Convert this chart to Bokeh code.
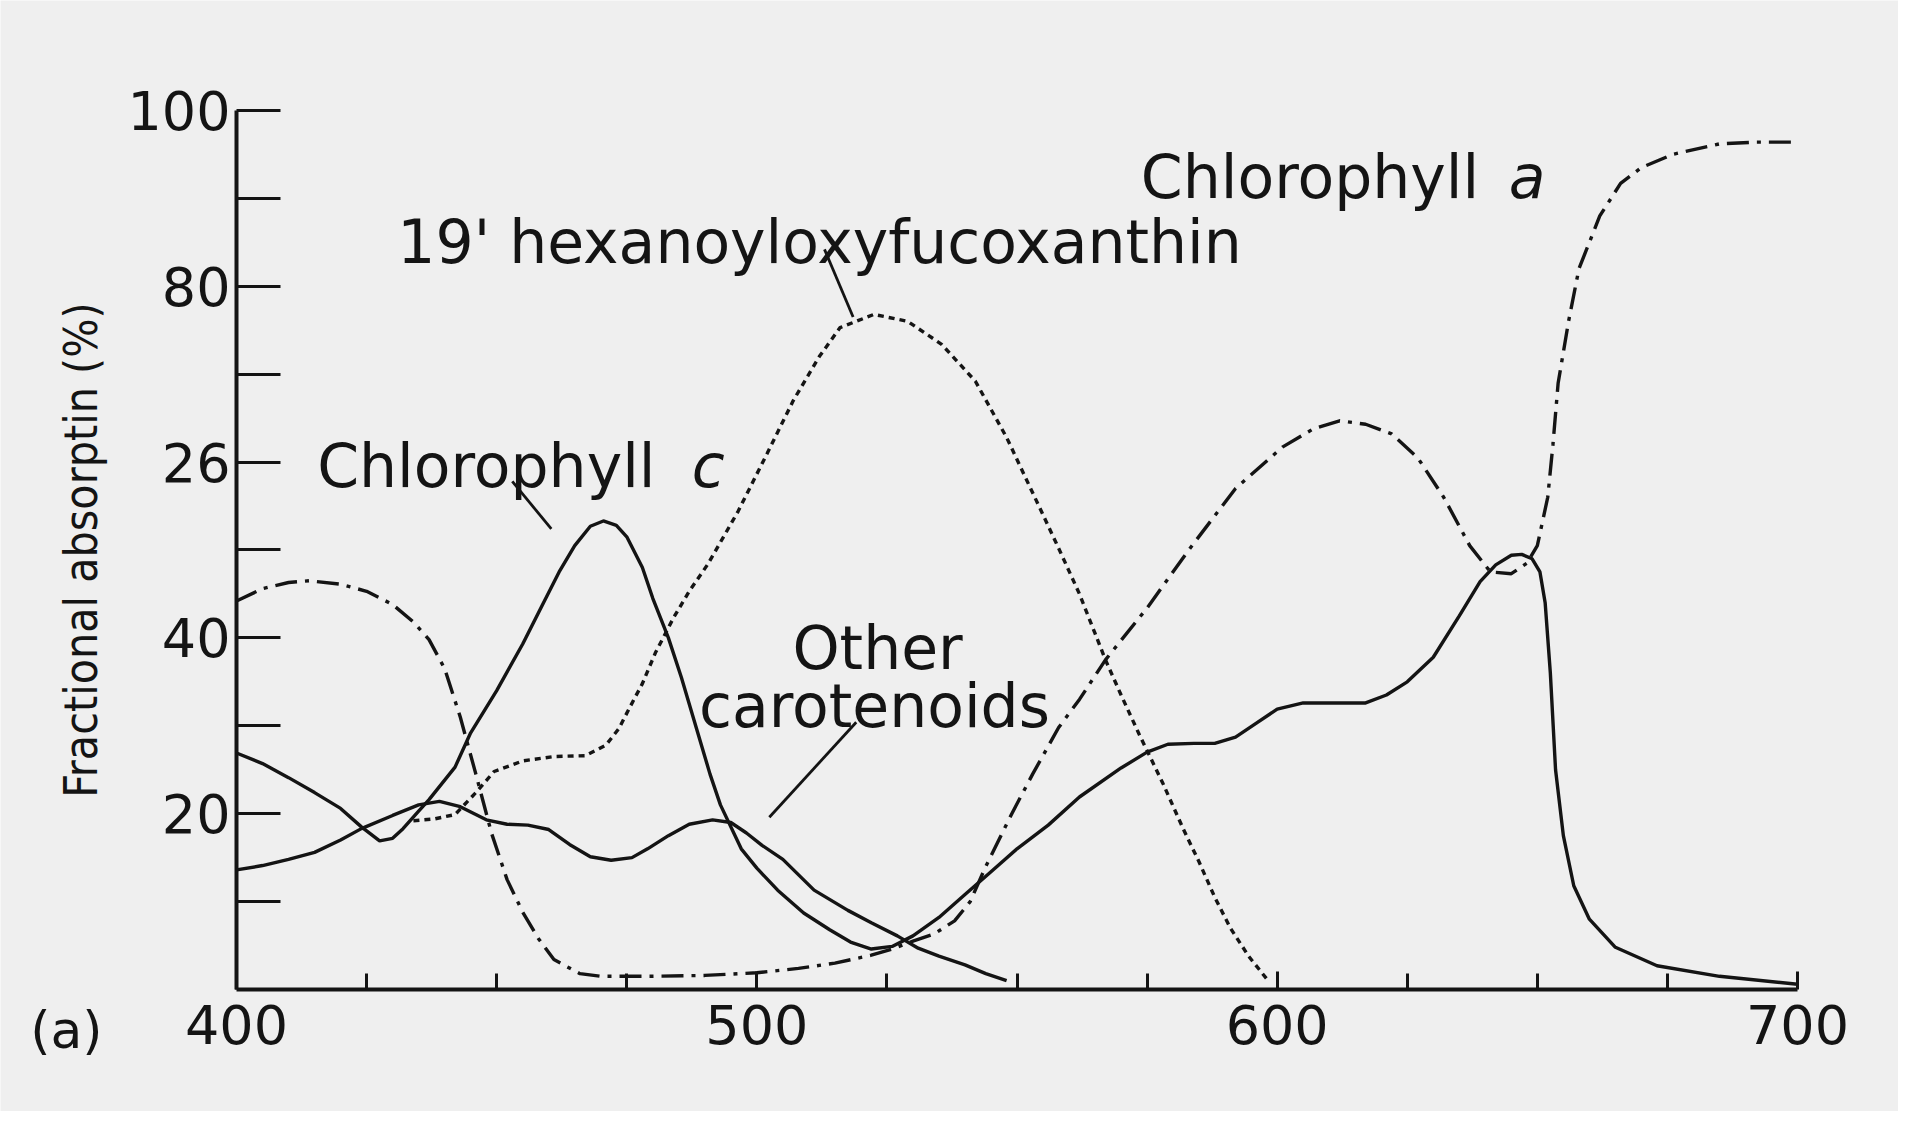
from bokeh.plotting import figure
from bokeh.models import FixedTicker, Label, Range1d
from bokeh.embed import file_html
from bokeh.resources import INLINE

# ---------------- data ----------------
# Chlorophyll a  (dash-dot)
wl_chl_a = [400, 405, 410, 414, 420, 425, 430, 434, 437, 440, 443, 446, 449, 452, 455,
            458, 461, 466, 470, 480, 490, 500, 508, 515, 522, 526, 530, 534, 538, 541,
            544, 549, 553, 558, 562, 567, 575, 583, 592, 601, 607, 612, 617, 622, 627,
            632, 637, 641, 645, 648, 650, 652, 653, 654, 656, 658, 662, 666, 670, 676,
            685, 692, 700]
chl_a = [44.2, 45.6, 46.3, 46.5, 46.1, 45.3, 43.8, 41.8, 39.8, 36.5, 31.0, 24.5, 17.8, 12.5, 8.8,
         5.8, 3.4, 1.8, 1.5, 1.5, 1.6, 1.9, 2.4, 3.0, 3.9, 4.6, 5.5, 6.3, 7.8, 10.0,
         14.0, 20.0, 24.5, 29.8, 33.0, 37.5, 43.4, 50.0, 57.0, 61.7, 63.8, 64.7, 64.3, 63.2, 60.5,
         56.0, 50.5, 47.5, 47.3, 48.5, 50.5, 56.0, 62.0, 69.0, 76.0, 82.0, 88.0, 91.7, 93.5, 95.0,
         96.2, 96.4, 96.4]

# 19' hexanoyloxyfucoxanthin  (dotted)
wl_hex = [434, 438, 442, 446, 449.5, 455, 461, 467, 471, 473.5, 475.5, 478, 480.5, 484,
          487, 490.6, 496.4, 502, 507, 512, 516, 522.5, 529, 535.5, 542, 548, 555, 558,
          562, 565, 567, 570, 573.5, 578, 582, 585, 588, 591, 594.5, 598]
hex19 = [19.2, 19.4, 19.9, 22.4, 24.8, 26.0, 26.5, 26.6, 27.8, 29.7, 32.0, 34.8, 38.3, 42.3,
         45.3, 48.4, 54.4, 61.0, 67.0, 72.0, 75.3, 76.8, 76.0, 73.4, 69.2, 62.8, 54.0, 50.2,
         45.0, 40.5, 37.5, 33.5, 29.0, 23.5, 18.2, 14.5, 10.5, 7.0, 3.8, 1.2]

# Chlorophyll c  (solid)
wl_chl_c = [400, 405, 410, 415, 420, 424, 427.5, 430, 432, 435, 437, 442, 445, 450, 455,
            459, 462, 465, 468, 470.5, 473, 475, 478, 480, 483, 485.5, 488.5, 491, 493, 497,
            500, 504, 509, 514, 518, 522, 526, 530, 535, 540, 545, 550, 556, 562, 570,
            575, 579, 584, 588, 592, 596, 600, 605, 612, 617, 621, 625, 630, 635, 639,
            642, 645, 647, 649, 650.5, 651.5, 652.5, 653.5, 655, 657, 660, 665, 673, 685, 700]
chl_c = [26.9, 25.7, 24.1, 22.4, 20.6, 18.5, 16.9, 17.2, 18.3, 20.3, 21.6, 25.3, 29.2, 34.0, 39.3,
         44.0, 47.5, 50.5, 52.7, 53.3, 52.8, 51.5, 48.0, 44.5, 40.0, 35.5, 29.5, 24.5, 21.0, 16.0,
         13.8, 11.3, 8.7, 6.8, 5.4, 4.6, 4.9, 6.1, 8.2, 10.8, 13.4, 16.0, 18.7, 21.9, 25.2,
         27.0, 27.9, 28.0, 28.0, 28.7, 30.3, 31.9, 32.6, 32.6, 32.6, 33.5, 35.0, 37.8, 42.5, 46.4,
         48.3, 49.4, 49.5, 49.0, 47.5, 44.0, 36.0, 25.0, 17.5, 11.8, 8.0, 4.8, 2.7, 1.5, 0.6]

# Other carotenoids  (solid)
wl_other = [400, 405, 410, 415, 420, 424, 430, 435, 439, 443, 448, 452, 456, 460, 464,
            468, 472, 476, 479, 483, 487, 491.5, 495, 498, 501, 505, 511, 517.5, 522, 527,
            531, 535, 540, 544, 548]
other_car = [13.6, 14.1, 14.8, 15.6, 17.0, 18.3, 19.8, 21.0, 21.4, 20.8, 19.3, 18.8, 18.7, 18.2, 16.5,
             15.1, 14.7, 15.0, 16.0, 17.5, 18.8, 19.3, 19.0, 17.8, 16.4, 14.8, 11.3, 9.0, 7.6, 6.1,
             4.7, 3.8, 2.8, 1.8, 1.0]

x_major_ticks = [400, 500, 600, 700]
x_minor_ticks = [425, 450, 475, 525, 550, 575, 625, 650, 675]
y_major_ticks = [20, 40, 60, 80, 100]
y_minor_ticks = [10, 30, 50, 70, 90]
y_tick_labels = {20: "20", 40: "40", 60: "26", 80: "80", 100: "100"}

# ---------------- figure ----------------
BG = "#efefef"
INK = "#141414"
FONT = "DejaVu Sans"

# the frame fills the whole canvas; the axes are pinned at x=400 and y=0
p = figure(width=1898, height=1111, output_backend="svg", toolbar_location=None,
           x_range=Range1d(354.64, 719.41), y_range=Range1d(-13.88, 112.51),
           min_border=0)
p.background_fill_color = BG
p.border_fill_color = BG
p.outline_line_color = None
p.grid.visible = False

LW = 3.4
p.line(wl_chl_a, chl_a, line_color=INK, line_width=LW, line_dash="22 8 4 8")
p.line(wl_hex, hex19, line_color=INK, line_width=LW, line_dash="6 5")
p.line(wl_chl_c, chl_c, line_color=INK, line_width=LW)
p.line(wl_other, other_car, line_color=INK, line_width=LW)

# leader lines
p.segment(x0=[513.0, 453.0, 519.1], y0=[84.2, 57.8, 30.4],
          x1=[518.5, 460.5, 502.4], y1=[76.5, 52.4, 19.6],
          line_color=INK, line_width=2.8)

# axes
xa = p.xaxis[0]
xa.ticker = FixedTicker(ticks=x_major_ticks, minor_ticks=x_minor_ticks)
xa.fixed_location = 0
xa.bounds = (400, 700)
ya = p.yaxis[0]
ya.ticker = FixedTicker(ticks=y_major_ticks, minor_ticks=y_minor_ticks)
ya.major_label_overrides = y_tick_labels
ya.fixed_location = 400
ya.bounds = (0, 100)

for ax in (xa, ya):
    ax.axis_line_color = INK
    ax.axis_line_width = 4
    ax.major_tick_line_color = INK
    ax.minor_tick_line_color = INK
    ax.major_tick_line_width = 3
    ax.minor_tick_line_width = 3
    ax.major_tick_out = 0
    ax.minor_tick_out = 0
    ax.major_label_text_font = FONT
    ax.major_label_text_font_size = "54px"
    ax.major_label_text_color = INK

xa.major_tick_in = 18
xa.minor_tick_in = 16
xa.major_label_standoff = 16

ya.major_tick_in = 44
ya.minor_tick_in = 44
ya.major_label_standoff = 6
ya.axis_label = "Fractional absorptin (%)"
ya.axis_label_text_font = "DejaVu Sans Condensed"
ya.axis_label_text_font_style = "normal"
ya.axis_label_text_font_size = "46px"
ya.axis_label_text_color = INK
ya.axis_label_standoff = 16

# text annotations
def add_label(x, y, text, style="normal", align="left", size="60px"):
    p.add_layout(Label(x=x, y=y, text=text, text_font=FONT, text_font_size=size,
                       text_font_style=style, text_color=INK, text_align=align,
                       text_baseline="alphabetic"))

add_label(573.8, 92.4, "Chlorophyll")
add_label(644.5, 92.4, "a", style="italic")
add_label(430.9, 85.0, "19' hexanoyloxyfucoxanthin")
add_label(415.5, 59.6, "Chlorophyll")
add_label(487.5, 59.6, "c", style="italic")
add_label(523.2, 38.8, "Other", align="center")
add_label(522.6, 32.2, "carotenoids", align="center")
add_label(367.3, -4.6, "(a)", size="52px", align="center")

open("out.html", "w").write(file_html(p, INLINE))
